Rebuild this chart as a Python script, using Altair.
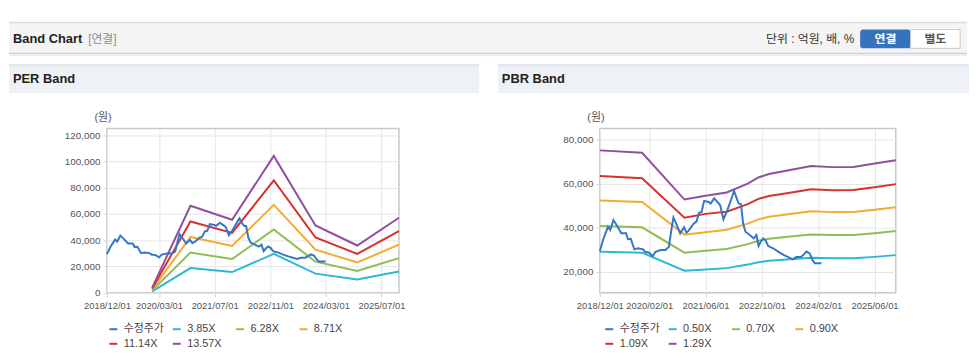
import altair as alt
import pandas as pd

FONT = "Liberation Sans, Noto Sans CJK KR, sans-serif"

# ---------------- data ----------------
price_dates = ["2018-12-01", "2019-01-01", "2019-02-10", "2019-03-01", "2019-03-28", "2019-05-01",
               "2019-06-04", "2019-07-15", "2019-08-01", "2019-08-25", "2019-09-25", "2019-10-25",
               "2019-12-10", "2019-12-25", "2020-02-01", "2020-03-01", "2020-03-25", "2020-05-10",
               "2020-06-20", "2020-07-20", "2020-08-12", "2020-08-28", "2020-09-25", "2020-10-25",
               "2020-11-12", "2020-11-28", "2020-12-18", "2021-01-06", "2021-02-20", "2021-03-15",
               "2021-04-06", "2021-04-28", "2021-05-20", "2021-06-28", "2021-07-15", "2021-08-15",
               "2021-09-12", "2021-10-06", "2021-11-03", "2021-12-01", "2022-01-01", "2022-02-03",
               "2022-02-25", "2022-03-15", "2022-04-03", "2022-04-22", "2022-05-12", "2022-06-18",
               "2022-07-22", "2022-08-15", "2022-09-03", "2022-09-22", "2022-10-12", "2022-11-03",
               "2022-11-25", "2023-01-10", "2023-02-22", "2023-04-06", "2023-05-18", "2023-06-25",
               "2023-07-25", "2023-09-03", "2023-09-25", "2023-10-22", "2023-11-18", "2023-12-12",
               "2024-01-01", "2024-02-28"]
price_values = [29500, 35000, 40500, 39000, 43500, 40700, 37500, 37500, 34800, 35000, 30200, 30700,
                30200, 29100, 28700, 27000, 29100, 29900, 29900, 31400, 39700, 44700, 41300, 37500,
                39000, 40200, 37800, 38700, 42000, 42800, 46800, 47200, 52200, 51700, 51000, 53300,
                51700, 50200, 43800, 47200, 51700, 56700, 53300, 51000, 50700, 42000, 38200, 36700,
                35200, 36700, 31700, 33700, 35200, 34200, 31700, 30600, 29100, 27700, 26700, 25700,
                26700, 26700, 27700, 29200, 28400, 25400, 23900, 23900]

per_dates = ["2020-01-01", "2020-12-01", "2021-12-01", "2022-12-01", "2023-12-01", "2024-12-01", "2025-12-01"]
per_385 = [1100, 18800, 15800, 29600, 14600, 10200, 16200]
per_628 = [1900, 30600, 25700, 48200, 23700, 16700, 26400]
per_871 = [2600, 42500, 35700, 66900, 32900, 23100, 36700]
per_1114 = [3300, 54300, 45600, 85500, 42100, 29600, 46900]
per_1357 = [4000, 66200, 55600, 104200, 51300, 36000, 57100]

pbr_dates = ["2018-12-01", "2019-12-01", "2020-12-01", "2021-06-01", "2021-12-01", "2022-06-01",
             "2022-09-01", "2022-12-01", "2023-06-01", "2023-12-01", "2024-06-01", "2024-12-01",
             "2025-06-01", "2025-12-01"]
pbr_050 = [29100, 28700, 20500, 21100, 21700, 23300, 24400, 25000, 25700, 26400, 26200, 26200, 26800, 27600]
pbr_070 = [40800, 40200, 28700, 29600, 30400, 32600, 34100, 35000, 36000, 36900, 36700, 36700, 37500, 38500]
pbr_090 = [52400, 51700, 36900, 38000, 39100, 41900, 43800, 45000, 46200, 47500, 47100, 47200, 48200, 49300]
pbr_109 = [63500, 62500, 44600, 46300, 47300, 50700, 53100, 54400, 55900, 57500, 57000, 57100, 58400, 59800]
pbr_129 = [75100, 74000, 52800, 54500, 56000, 60000, 62800, 64400, 66200, 68000, 67500, 67600, 69100, 70600]

per_names = ["수정주가", "3.85X", "6.28X", "8.71X", "11.14X", "13.57X"]
pbr_names = ["수정주가", "0.50X", "0.70X", "0.90X", "1.09X", "1.29X"]
line_colors = ["#3576c9", "#2bb8d3", "#8fbd50", "#f6aa30", "#d7312d", "#914d9e"]

per_x_ticks = ["2018-12-01", "2020-03-01", "2021-07-01", "2022-11-01", "2024-03-01", "2025-07-01"]
pbr_x_ticks = ["2018-12-01", "2020-02-01", "2021-06-01", "2022-10-01", "2024-02-01", "2025-06-01"]
x_range = ["2018-12-01", "2025-12-01"]
per_y_domain = [0, 125000]
per_y_ticks = [0, 20000, 40000, 60000, 80000, 100000, 120000]
pbr_y_domain = [10500, 85000]
pbr_y_ticks = [20000, 40000, 60000, 80000]


# ---------------- helpers ----------------
def dt(s):
    y, m, d = (int(p) for p in s.split("-"))
    return alt.DateTime(year=y, month=m, date=d, utc=True)


def long_df(dates, series_list, names):
    rows = []
    for name, vals in zip(names, series_list):
        for d, v in zip(dates, vals):
            rows.append({"date": d, "value": v, "series": name})
    return pd.DataFrame(rows)


dummy = pd.DataFrame({"k": [0]})


def vrect(x1, x2, y1, y2, **kw):
    return alt.Chart(dummy).mark_rect(**kw).encode(
        x=alt.value(x1), x2=alt.value(x2), y=alt.value(y1), y2=alt.value(y2))


def vtext(x, y, s, **kw):
    return alt.Chart(dummy).mark_text(font=FONT, baseline="middle", **kw).encode(
        x=alt.value(x), y=alt.value(y), text=alt.value(s))


PLOT_H = 166


def panel(title, names, band_dates, bands, x_ticks, y_domain, y_ticks, width, bar_left, bar_right, legend_x):
    cscale = alt.Scale(domain=names, range=line_colors)
    legend = alt.Legend(title=None, orient="none", legendX=legend_x, legendY=197, direction="horizontal",
                        columns=4, symbolType="stroke", symbolSize=64, symbolStrokeWidth=2,
                        labelFont=FONT, labelFontSize=11, labelColor="#444", labelOffset=5,
                        columnPadding=4, rowPadding=3, gridAlign="all", padding=0)
    x = alt.X("date:T", title=None,
              scale=alt.Scale(type="utc", domain=[dt(x_range[0]), dt(x_range[1])]),
              axis=alt.Axis(values=[dt(t) for t in x_ticks],
                            labelExpr="utcFormat(datum.value, '%Y/%m/%d')",
                            labelFont=FONT, labelFontSize=9.5, labelColor="#555", labelPadding=4,
                            labelFlush=False, labelOverlap=False, tickSize=4, tickColor="#d0d0d0",
                            domain=False, gridColor="#e6e6e6"))
    y = alt.Y("value:Q", title=None,
              scale=alt.Scale(domain=y_domain, nice=False, zero=False),
              axis=alt.Axis(values=y_ticks, labelExpr="format(datum.value, ',')",
                            labelFont=FONT, labelFontSize=10,
                            labelColor="#555", labelPadding=3, tickSize=4, tickColor="#d0d0d0",
                            domain=False, gridColor="#e6e6e6"))
    band_df = long_df(band_dates, bands, names[1:])
    price_df = pd.DataFrame({"date": price_dates, "value": price_values, "series": names[0]})
    band_lines = alt.Chart(band_df).mark_line(strokeWidth=2).encode(
        x=x, y=y, color=alt.Color("series:N", scale=cscale, legend=legend))
    price_line = alt.Chart(price_df).mark_line(strokeWidth=2).encode(
        x=x, y=y, color=alt.Color("series:N", scale=cscale, legend=legend))
    return alt.layer(
        vrect(bar_left, bar_right, -65, -36, fill="#eef1f6"),
        vrect(bar_left, bar_right, -65, -63, fill="#e2e6ec"),
        vtext(bar_left + 4, -50, title, align="left", fontSize=13, fontWeight="bold", color="#222"),
        vtext(-4, -11, "(원)", align="center", fontSize=11, color="#555"),
        band_lines,
        price_line,
    ).properties(width=width, height=PLOT_H,
                 view=alt.ViewBackground(stroke="#c8c8c8", strokeWidth=1.5))


per = panel("PER Band", per_names, per_dates, [per_385, per_628, per_871, per_1114, per_1357],
            per_x_ticks, per_y_domain, per_y_ticks, 295, -99, 376, 1)
pbr = panel("PBR Band", pbr_names, pbr_dates, [pbr_050, pbr_070, pbr_090, pbr_109, pbr_129],
            pbr_x_ticks, pbr_y_domain, pbr_y_ticks, 299, -103, 373, 4)

# header: origin shares the column origin of the PER plot (page x = 107)
L, R = -99, 869
header = alt.layer(
    vrect(L, R, 13, 44, fill="#f4f4f4"),
    vrect(L, R, 12, 13.5, fill="#d9d9d9"),
    vrect(L, R, 43.5, 45, fill="#d2d2d2"),
    vrect(L, R, 45, 47, fill="#ececec"),
    vtext(-95, 30, "Band Chart", align="left", fontSize=13, fontWeight="bold", color="#222"),
    vtext(-19, 30, "[연결]", align="left", fontSize=12, color="#8c8c8c"),
    vtext(755, 30, "단위 : 억원, 배, %", align="right", fontSize=12, color="#333"),
    vrect(761, 812, 20, 39, fill="#3574bd", cornerRadius=3),
    vrect(812, 862, 20, 39, fill="#ffffff", stroke="#c9c9c9", strokeWidth=1),
    vtext(786.5, 29.5, "연결", align="center", fontSize=12, fontWeight="bold", color="#ffffff"),
    vtext(837, 29.5, "별도", align="center", fontSize=12, fontWeight="bold", color="#555"),
).properties(width=860, height=50, view=alt.ViewBackground(strokeWidth=0))

chart = alt.vconcat(
    header,
    alt.hconcat(per, pbr, spacing=17).resolve_scale(color="independent").resolve_legend(color="independent"),
    spacing=4,
).properties(padding=0).configure_view(strokeWidth=0)

chart.save("out.html", embed_options={"renderer": "svg", "actions": False})
